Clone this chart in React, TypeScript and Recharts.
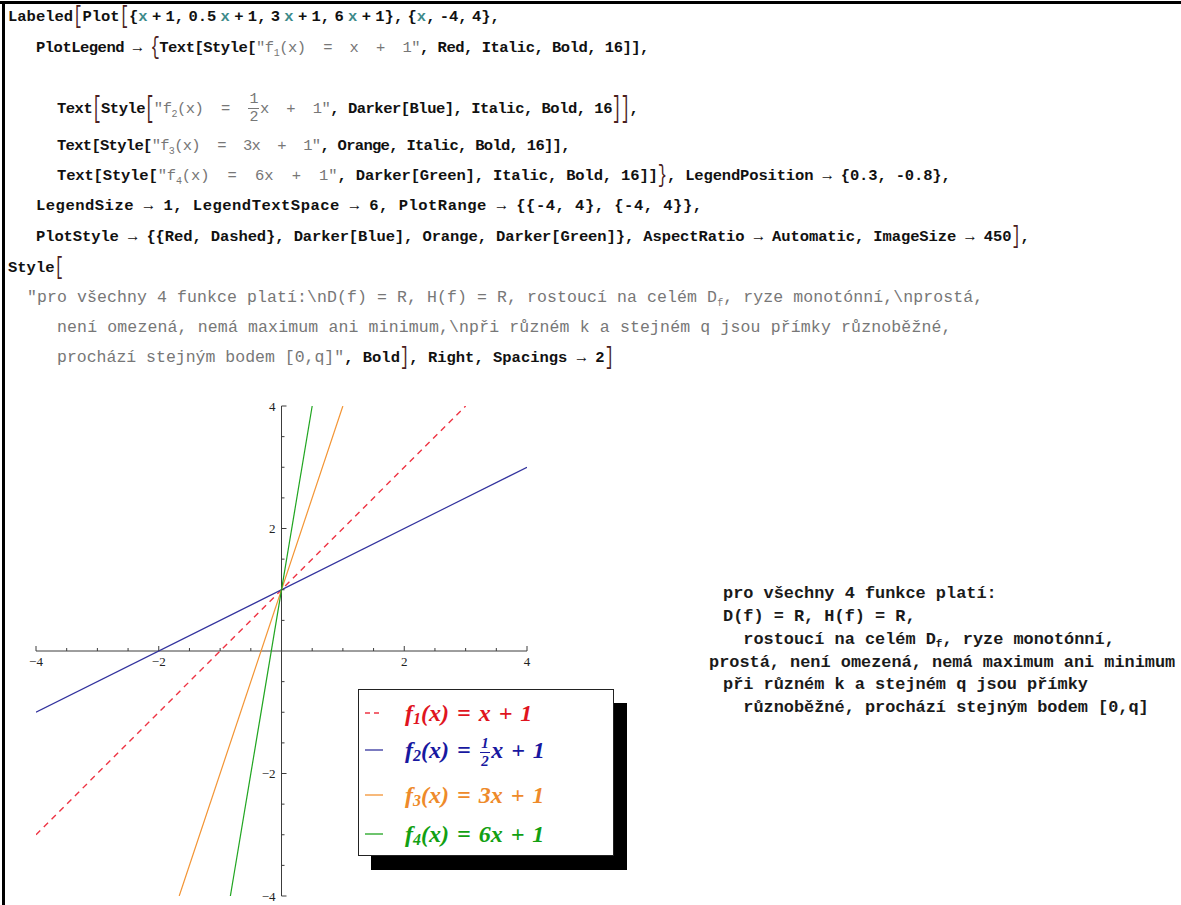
import React from "react";
import { LineChart, Line, XAxis, YAxis, ReferenceLine, ReferenceDot } from "recharts";

// Visible end points of the four straight lines inside the plot range
const f1Data = [
  { x: -4, y: -3 },
  { x: 3, y: 4 },
];
const f2Data = [
  { x: -4, y: -1 },
  { x: 4, y: 3 },
];
const f3Data = [
  { x: -1.667, y: -4 },
  { x: 1, y: 4 },
];
const f4Data = [
  { x: -0.833, y: -4 },
  { x: 0.5, y: 4 },
];

const plotDomain: [number, number] = [-4, 4];
const xMajorTicks = [-4, -2, 2, 4];
const xMinorTicks = [-3.5, -3, -2.5, -1.5, -1, -0.5, 0.5, 1, 1.5, 2.5, 3, 3.5];
const yMajorTicks = [-4, -2, 2, 4];
const yMinorTicks = [-3.5, -3, -2.5, -1.5, -1, -0.5, 0.5, 1, 1.5, 2.5, 3, 3.5];

const legendSubscripts = ["1", "2", "3", "4"];
const legendRightSides = ["x + 1", "HALF", "3x + 1", "6x + 1"];

const summaryLines = [
  "pro všechny 4 funkce platí:",
  "D(f) = R, H(f) = R,",
  "  rostoucí na celém D",
  "prostá, není omezená, nemá maximum ani minimum",
  "při různém k a stejném q jsou přímky",
  "  různoběžné, prochází stejným bodem [0,q]",
];

const COLORS = {
  red: "#ee3444",
  blue: "#33339e",
  orange: "#f39433",
  green: "#1fa51f",
};
const TEXT_RED = "#e0141e";
const TEXT_BLUE = "#1818a0";
const TEXT_ORANGE = "#ee8a2a";
const TEXT_GREEN = "#12a012";
const AXIS = "#3c3c3c";

const fmt = (v: number) => (v < 0 ? "\u2212" + Math.abs(v) : String(v));

const codeFont = "'Liberation Mono', 'DejaVu Sans Mono', monospace";

const K = ({ children }: { children: React.ReactNode }) => (
  <span style={{ color: "#111", fontWeight: 700 }}>{children}</span>
);
const V = ({ children }: { children: React.ReactNode }) => (
  <span style={{ color: "#3d8a8a", fontWeight: 700 }}>{children}</span>
);
const S = ({ children, size }: { children: React.ReactNode; size?: number }) => (
  <span style={{ color: "#777", fontWeight: 400, fontSize: size }}>{children}</span>
);
const Br = ({ children, scale = 1.6 }: { children: React.ReactNode; scale?: number }) => (
  <span
    style={{
      display: "inline-block",
      transform: `scaleY(${scale})`,
      color: "#4a2020",
      fontWeight: 400,
    }}
  >
    {children}
  </span>
);

const CodeRow = ({
  x,
  y,
  ls = 0,
  ws = 0,
  children,
}: {
  x: number;
  y: number;
  ls?: number;
  ws?: number;
  children: React.ReactNode;
}) => (
  <div
    style={{
      position: "absolute",
      left: x,
      top: y - 10,
      height: 20,
      lineHeight: "20px",
      fontFamily: codeFont,
      fontSize: 15.5,
      whiteSpace: "pre",
      letterSpacing: ls,
      wordSpacing: ws,
    }}
  >
    {children}
  </div>
);

const Frac = ({ color, size }: { color: string; size: number }) => (
  <span
    style={{
      display: "inline-flex",
      flexDirection: "column",
      alignItems: "center",
      verticalAlign: "middle",
      lineHeight: 1,
      fontSize: size,
      color,
      margin: "0 1px",
    }}
  >
    <span>1</span>
    <span style={{ borderTop: `1px solid ${color}`, width: "0.7em", marginTop: 1, paddingTop: 1 }}>
      <span style={{ display: "block", textAlign: "center" }}>2</span>
    </span>
  </span>
);

const xTick = (v: number, major: boolean) => (props: any) => {
  const { cx, cy } = props;
  return (
    <g>
      <line x1={cx} x2={cx} y1={cy} y2={cy - (major ? 5 : 3)} stroke={AXIS} strokeWidth={1} />
      {major && (
        <text
          x={cx}
          y={cy + 15}
          textAnchor="middle"
          fontFamily="'Liberation Serif', serif"
          fontSize={13}
          fill="#222"
        >
          {fmt(v)}
        </text>
      )}
    </g>
  );
};

const yTick = (v: number, major: boolean) => (props: any) => {
  const { cx, cy } = props;
  return (
    <g>
      <line x1={cx} x2={cx + (major ? 5 : 3)} y1={cy} y2={cy} stroke={AXIS} strokeWidth={1} />
      {major && (
        <text
          x={cx - 6}
          y={cy + 4.5}
          textAnchor="end"
          fontFamily="'Liberation Serif', serif"
          fontSize={13}
          fill="#222"
        >
          {fmt(v)}
        </text>
      )}
    </g>
  );
};

const legendColors = [TEXT_RED, TEXT_BLUE, TEXT_ORANGE, TEXT_GREEN];
const legendLineColors = [COLORS.red, COLORS.blue, COLORS.orange, COLORS.green];
const legendRowY = [23, 60, 105, 144];

const Legend = () => (
  <div
    style={{
      position: "absolute",
      left: 358,
      top: 689,
      width: 254,
      height: 165,
      border: "1.5px solid #222",
      background: "#fff",
      boxShadow: "13px 14px 0 0 #000",
    }}
  >
    {legendSubscripts.map((sub, i) => (
      <div key={sub} style={{ position: "absolute", left: 0, top: legendRowY[i] - 16, height: 32 }}>
        <svg width={30} height={32} style={{ position: "absolute", left: 3, top: 0 }}>
          <line
            x1={3}
            x2={21}
            y1={16}
            y2={16}
            stroke={legendLineColors[i]}
            strokeWidth={1.3}
            strokeDasharray={i === 0 ? "5 4" : undefined}
          />
        </svg>
        <div
          style={{
            position: "absolute",
            left: 46,
            top: 0,
            lineHeight: "32px",
            whiteSpace: "pre",
            fontFamily: "'Liberation Serif', serif",
            fontStyle: "italic",
            fontWeight: 700,
            fontSize: 24,
            wordSpacing: 2,
            color: legendColors[i],
          }}
        >
          f<span style={{ fontSize: 16, position: "relative", top: 3 }}>{sub}</span>(x) ={" "}
          {legendRightSides[i] === "HALF" ? (
            <>
              <Frac color={legendColors[i]} size={15} />x + 1
            </>
          ) : (
            legendRightSides[i]
          )}
        </div>
      </div>
    ))}
  </div>
);

const summaryX = [723, 723, 723, 709, 723, 723];
const summaryY = [594, 617, 640, 663, 685, 708];

const Summary = () => (
  <>
    {summaryLines.map((line, i) => (
      <div
        key={i}
        style={{
          position: "absolute",
          left: summaryX[i],
          top: summaryY[i] - 11,
          lineHeight: "22px",
          fontFamily: codeFont,
          fontWeight: 700,
          fontSize: 16.9,
          whiteSpace: "pre",
          color: "#1a1a1a",
        }}
      >
        {line}
        {i === 2 && (
          <>
            <span style={{ fontSize: 11, position: "relative", top: 3 }}>f</span>, ryze monotónní,
          </>
        )}
      </div>
    ))}
  </>
);

export default function App() {
  return (
    <div
      style={{
        position: "absolute",
        left: 0,
        top: 0,
        width: 1181,
        height: 905,
        background: "#fff",
        overflow: "hidden",
      }}
    >
      {/* cell frame */}
      <div style={{ position: "absolute", left: 0, top: 1, width: 1181, height: 2.5, background: "#000" }} />
      <div style={{ position: "absolute", left: 2, top: 1, width: 2.5, height: 904, background: "#000" }} />

      <CodeRow x={8} y={17} ws={-5}>
        <K>Labeled</K>
        <Br>[</Br>
        <K>Plot</K>
        <Br>[</Br>
        <K>{"{"}</K>
        <V>x</V>
        <K>{" + 1, 0.5 "}</K>
        <V>x</V>
        <K>{" + 1, 3 "}</K>
        <V>x</V>
        <K>{" + 1, 6 "}</K>
        <V>x</V>
        <K>{" + 1}, {"}</K>
        <V>x</V>
        <K>{", -4, 4},"}</K>
      </CodeRow>

      <CodeRow x={36} y={48} ls={-0.5}>
        <K>{"PlotLegend \u2192 "}</K>
        <Br scale={1.5}>{"{"}</Br>
        <K>{"Text[Style["}</K>
        <S>
          {'"f'}
          <sub style={{ fontSize: 10 }}>1</sub>
          {'(x)  =  x  +  1"'}
        </S>
        <K>{", Red, Italic, Bold, 16]],"}</K>
      </CodeRow>

      <CodeRow x={57} y={102} ls={-0.5}>
        <K>{"Text"}</K>
        <Br scale={1.9}>[</Br>
        <K>{"Style"}</K>
        <Br scale={1.9}>[</Br>
        <S>
          {'"f'}
          <sub style={{ fontSize: 10 }}>2</sub>
          {"(x)  =  "}
          <Frac color="#777" size={15} />
          {'x  +  1"'}
        </S>
        <K>{", Darker[Blue], Italic, Bold, 16"}</K>
        <Br scale={1.9}>]</Br>
        <Br scale={1.9}>]</Br>
        <K>,</K>
      </CodeRow>

      <CodeRow x={57} y={146} ls={-0.7}>
        <K>{"Text[Style["}</K>
        <S>
          {'"f'}
          <sub style={{ fontSize: 10 }}>3</sub>
          {'(x)  =  3x  +  1"'}
        </S>
        <K>{", Orange, Italic, Bold, 16]],"}</K>
      </CodeRow>

      <CodeRow x={57} y={176} ls={-0.15}>
        <K>{"Text[Style["}</K>
        <S>
          {'"f'}
          <sub style={{ fontSize: 10 }}>4</sub>
          {'(x)  =  6x  +  1"'}
        </S>
        <K>{", Darker[Green], Italic, Bold, 16]]"}</K>
        <Br scale={1.5}>{"}"}</Br>
        <K>{", LegendPosition \u2192 {0.3, -0.8},"}</K>
      </CodeRow>

      <CodeRow x={36} y={206} ls={0.5}>
        <K>{"LegendSize \u2192 1, LegendTextSpace \u2192 6, PlotRange \u2192 {{-4, 4}, {-4, 4}},"}</K>
      </CodeRow>

      <CodeRow x={36} y={237} ls={-0.1}>
        <K>
          {
            "PlotStyle \u2192 {{Red, Dashed}, Darker[Blue], Orange, Darker[Green]}, AspectRatio \u2192 Automatic, ImageSize \u2192 450"
          }
        </K>
        <Br>]</Br>
        <K>,</K>
      </CodeRow>

      <CodeRow x={8} y={268}>
        <K>Style</K>
        <Br>[</Br>
      </CodeRow>

      <CodeRow x={27} y={298} ls={0.1}>
        <S size={16.5}>
          {'"pro všechny 4 funkce platí:\\nD(f) = R, H(f) = R, rostoucí na celém D'}
          <sub style={{ fontSize: 10 }}>f</sub>
          {", ryze monotónní,\\nprostá,"}
        </S>
      </CodeRow>

      <CodeRow x={57} y={328} ls={0.15}>
        <S size={16.5}>{"není omezená, nemá maximum ani minimum,\\npři různém k a stejném q jsou přímky různoběžné,"}</S>
      </CodeRow>

      <CodeRow x={57} y={358}>
        <S size={16.5}>{'prochází stejným bodem [0,q]"'}</S>
        <K>{", Bold"}</K>
        <Br>]</Br>
        <K>{", Right, Spacings \u2192 2"}</K>
        <Br>]</Br>
      </CodeRow>

      <div style={{ position: "absolute", left: 0, top: 390 }}>
        <LineChart width={560} height={515} margin={{ top: 16, right: 33, bottom: 9, left: 36 }}>
          <XAxis type="number" dataKey="x" domain={plotDomain} allowDataOverflow hide />
          <YAxis type="number" dataKey="y" domain={plotDomain} allowDataOverflow hide />
          <ReferenceLine x={0} stroke={AXIS} strokeWidth={1} />
          <ReferenceLine y={0} stroke={AXIS} strokeWidth={1} />
          {xMinorTicks.map((v) => (
            <ReferenceDot key={"xm" + v} x={v} y={0} r={0} shape={xTick(v, false)} />
          ))}
          {xMajorTicks.map((v) => (
            <ReferenceDot key={"xM" + v} x={v} y={0} r={0} shape={xTick(v, true)} />
          ))}
          {yMinorTicks.map((v) => (
            <ReferenceDot key={"ym" + v} x={0} y={v} r={0} shape={yTick(v, false)} />
          ))}
          {yMajorTicks.map((v) => (
            <ReferenceDot key={"yM" + v} x={0} y={v} r={0} shape={yTick(v, true)} />
          ))}
          <Line
            data={f1Data}
            dataKey="y"
            type="linear"
            stroke={COLORS.red}
            strokeWidth={1.4}
            strokeDasharray="6 5"
            dot={false}
            isAnimationActive={false}
          />
          <Line
            data={f2Data}
            dataKey="y"
            type="linear"
            stroke={COLORS.blue}
            strokeWidth={1.2}
            dot={false}
            isAnimationActive={false}
          />
          <Line
            data={f3Data}
            dataKey="y"
            type="linear"
            stroke={COLORS.orange}
            strokeWidth={1.2}
            dot={false}
            isAnimationActive={false}
          />
          <Line
            data={f4Data}
            dataKey="y"
            type="linear"
            stroke={COLORS.green}
            strokeWidth={1.2}
            dot={false}
            isAnimationActive={false}
          />
        </LineChart>
      </div>

      <Legend />
      <Summary />
    </div>
  );
}
